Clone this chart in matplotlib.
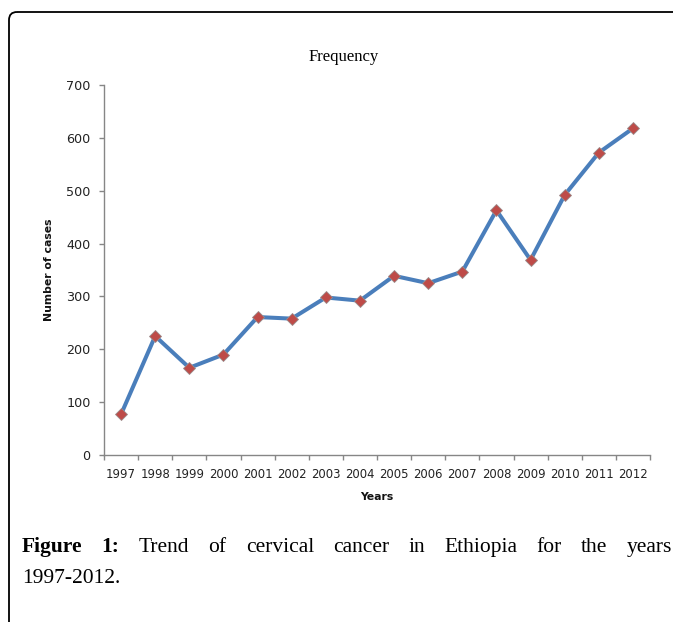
import matplotlib
matplotlib.use("Agg")
import matplotlib.pyplot as plt
from matplotlib.patches import FancyBboxPatch
from matplotlib.ticker import FixedLocator, NullFormatter

years = ["1997", "1998", "1999", "2000", "2001", "2002", "2003", "2004",
         "2005", "2006", "2007", "2008", "2009", "2010", "2011", "2012"]
cases = [77, 225, 165, 190, 261, 258, 298, 292, 339, 325, 347, 463, 369, 492, 572, 618]
y_ticks = [0, 100, 200, 300, 400, 500, 600, 700]

title = "Frequency"
xlabel = "Years"
ylabel = "Number of cases"
caption_bold = ["Figure", "1:"]
caption_words = ["Trend", "of", "cervical", "cancer", "in", "Ethiopia", "for", "the", "years"]
caption_line2 = "1997-2012."

W, H = 673, 622
fig = plt.figure(figsize=(W / 100, H / 100), dpi=100)

# overlay axes in pixel coordinates for frame, title and caption
ov = fig.add_axes([0, 0, 1, 1], zorder=0)
ov.set_xlim(0, W)
ov.set_ylim(H, 0)
ov.axis("off")
ov.patch.set_alpha(0)
frame = FancyBboxPatch((9, 12), 800, 800, boxstyle="round,pad=0,rounding_size=8",
                       fill=False, edgecolor="black", linewidth=1.3, clip_on=True)
ov.add_patch(frame)
frame.set_clip_box(ov.bbox)

serif = "Liberation Serif"
cap_size = 15.5
ov.text(344, 61, title, fontsize=12, family=serif, ha="center", va="baseline")

# justified first caption line
texts = []
for w in caption_bold:
    texts.append(ov.text(0, 552, w, fontsize=cap_size, family=serif, fontweight="bold",
                         ha="left", va="baseline"))
for w in caption_words:
    texts.append(ov.text(0, 552, w, fontsize=cap_size, family=serif,
                         ha="left", va="baseline"))
fig.canvas.draw()
r = fig.canvas.get_renderer()
widths = [t.get_window_extent(r).width for t in texts]
x0, x1 = 22, 672
gap = (x1 - x0 - sum(widths)) / (len(texts) - 1)
x = x0
for t, wd in zip(texts, widths):
    t.set_x(x)
    x += wd + gap
ov.text(22, 583, caption_line2, fontsize=cap_size, family=serif, ha="left", va="baseline")

# main chart
ax = fig.add_axes([104 / W, 1 - 455 / H, 546 / W, 370 / H], zorder=1)
ax.patch.set_alpha(0)
xs = list(range(len(years)))
ax.plot(xs, cases, color="#4a7ebb", linewidth=2.9, marker="D", markersize=6.5,
        markerfacecolor="#be4b48", markeredgecolor="#9a8a8a", markeredgewidth=0.6,
        solid_joinstyle="round", zorder=3)

ax.set_xlim(-0.5, len(years) - 0.5)
ax.set_ylim(0, 700)
ax.set_yticks(y_ticks)
ax.set_xticks(xs)
ax.set_xticklabels(years)
ax.xaxis.set_minor_locator(FixedLocator([i - 0.5 for i in range(len(years) + 1)]))
ax.xaxis.set_minor_formatter(NullFormatter())

axis_color = "#868686"
for s in ["top", "right"]:
    ax.spines[s].set_visible(False)
for s in ["left", "bottom"]:
    ax.spines[s].set_color(axis_color)
    ax.spines[s].set_linewidth(1.0)

ax.tick_params(axis="x", which="major", length=0, pad=9.5, labelsize=8.4, colors="#222222")
ax.tick_params(axis="x", which="minor", length=3.6, width=1.0, color=axis_color, direction="out")
ax.tick_params(axis="y", which="major", length=3.6, width=1.0, color=axis_color,
               pad=6, labelsize=9.2, labelcolor="#222222")

ax.set_xlabel(xlabel, fontsize=7.8, fontweight="bold", labelpad=8, color="#111111")
ax.set_ylabel(ylabel, fontsize=7.8, fontweight="bold", labelpad=9, color="#111111")

fig.savefig("out.png", dpi=100)
